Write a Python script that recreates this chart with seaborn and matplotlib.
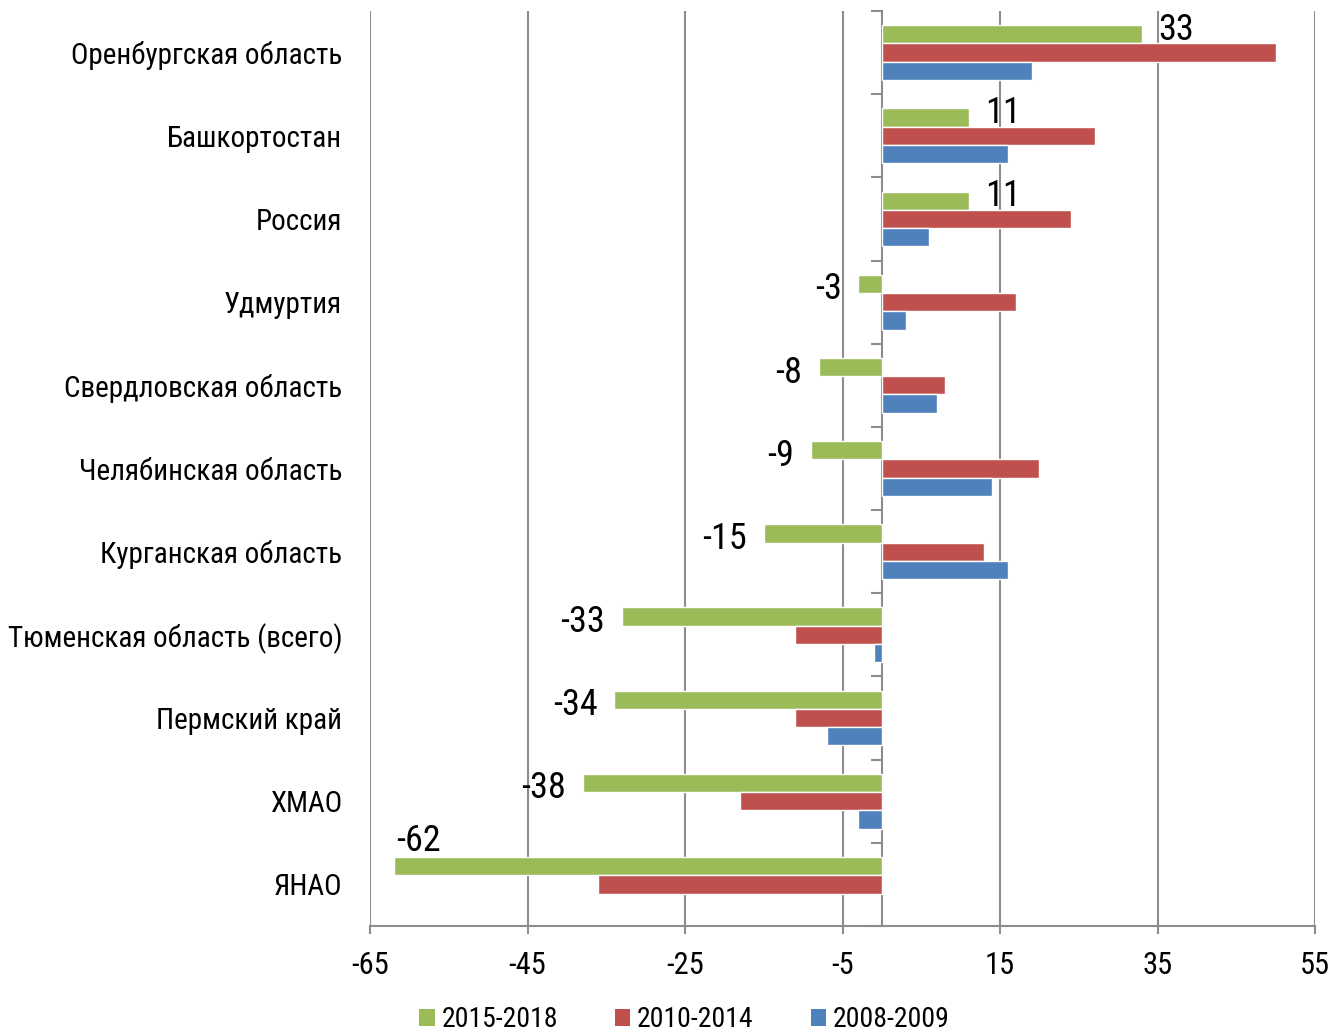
import numpy as np
import pandas as pd
import matplotlib
matplotlib.use("Agg")
import matplotlib.pyplot as plt
import seaborn as sns
from matplotlib.patches import Patch

regions = ["Оренбургская область", "Башкортостан", "Россия", "Удмуртия",
           "Свердловская область", "Челябинская область", "Курганская область",
           "Тюменская область (всего)", "Пермский край", "ХМАО", "ЯНАО"]
periods = ["2015-2018", "2010-2014", "2008-2009"]
v_2015_2018 = [33, 11, 11, -3, -8, -9, -15, -33, -34, -38, -62]
v_2010_2014 = [50, 27, 24, 17, 8, 20, 13, -11, -11, -18, -36]
v_2008_2009 = [19, 16, 6, 3, 7, 14, 16, -1, -7, -3, np.nan]
colors = ["#9BBB59", "#C0504D", "#4F81BD"]
x_ticks = [-65, -45, -25, -5, 15, 35, 55]

sns.set_theme(style="white")
plt.rcParams["font.family"] = ["Roboto Condensed", "DejaVu Sans"]
plt.rcParams["text.color"] = "black"
plt.rcParams["xtick.color"] = "black"
plt.rcParams["ytick.color"] = "black"

rows = []
for p, vals in zip(periods, [v_2015_2018, v_2010_2014, v_2008_2009]):
    for r, v in zip(regions, vals):
        rows.append({"region": r, "period": p, "value": v})
df = pd.DataFrame(rows)

fig = plt.figure(figsize=(13.33, 10.35), dpi=100)
ax = fig.add_axes([370/1333, 1 - 926/1035, (1315-370)/1333, (926-11)/1035])

sns.barplot(data=df, y="region", x="value", hue="period", order=regions,
            hue_order=periods, palette=colors, orient="h", width=0.66,
            saturation=1, dodge=True, legend=False, ax=ax, errorbar=None)

grid_c = "#8C8C8C"
ax.set_xlim(-65, 55)
ax.set_ylim(len(regions) - 0.5, -0.5)
ax.set_xticks(x_ticks)
ax.set_xticklabels([str(t) for t in x_ticks])
ax.set_xlabel("")
ax.set_ylabel("")
ax.xaxis.grid(True, color=grid_c, linewidth=1.5)
ax.set_axisbelow(True)
for s in ["top", "right", "left"]:
    ax.spines[s].set_visible(False)
ax.spines["bottom"].set_color(grid_c)
ax.spines["bottom"].set_linewidth(1.5)
ax.tick_params(axis="x", direction="out", length=6, width=1.5, color=grid_c,
               pad=12, labelsize=22, bottom=True, labelcolor="black")
ax.tick_params(axis="y", length=0, pad=20, labelsize=21, labelcolor="black")

# zero axis with category boundary ticks
sec = ax.secondary_yaxis(65/120)
sec.set_alignment("left")
sec.set_yticks(np.arange(-0.5, len(regions), 1.0))
sec.set_yticklabels([])
sec.spines["left"].set_color(grid_c)
sec.spines["left"].set_linewidth(1.5)
sec.tick_params(axis="y", direction="out", length=8, width=1.5, color=grid_c)

# data labels on the 2015-2018 series
cont = ax.containers[0]
vmin = min(v_2015_2018)
for bar, v in zip(cont, v_2015_2018):
    y = bar.get_y() + bar.get_height() / 2
    if v == vmin:
        ax.annotate(str(v), (v, y), xytext=(2, 5), textcoords="offset points",
                    ha="left", va="bottom", fontsize=26)
    elif v > 0:
        ax.annotate(str(v), (v, y), xytext=(12, 3), textcoords="offset points",
                    ha="left", va="center", fontsize=26)
    else:
        ax.annotate(str(v), (v, y), xytext=(-12, -4), textcoords="offset points",
                    ha="right", va="center", fontsize=26)

handles = [Patch(facecolor=c, edgecolor="none", label=p) for c, p in zip(colors, periods)]
fig.legend(handles=handles, loc="lower center", bbox_to_anchor=(0.5135, -0.009),
           ncol=3, frameon=False, fontsize=20, handlelength=0.55, handleheight=0.55,
           handletextpad=0.25, columnspacing=2.05, borderaxespad=0)

fig.savefig("out.png", dpi=100)
